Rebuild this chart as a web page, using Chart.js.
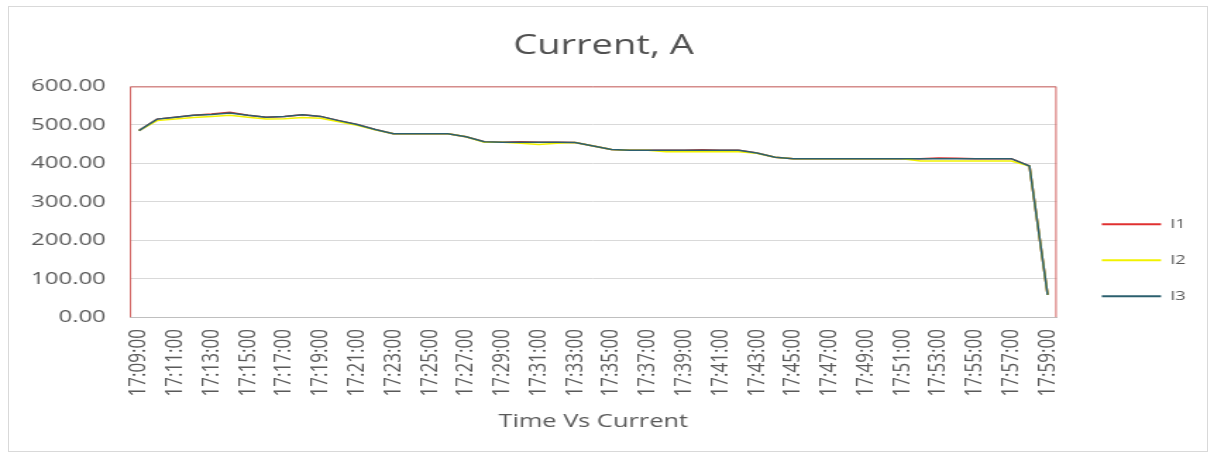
<!DOCTYPE html>
<html>
<head>
<meta charset="utf-8">
<script src="https://cdn.jsdelivr.net/npm/chart.js@4"></script>
<style>
    html, body { margin: 0; padding: 0; background: #fff; }
    body { width: 1215px; height: 454px; position: relative; overflow: hidden; }
    /* the source picture is stretched sideways, so the chart is drawn narrow and scaled */
    #stretch { position: absolute; left: 0; top: 0; width: 862px; height: 454px; transform: scaleX(1.41); transform-origin: 0 0; }
    #frame { position: absolute; left: 8px; top: 6px; width: 1198px; height: 444px; border: 1px solid #d9d9d9; pointer-events: none; }
</style>
</head>
<body>
<div id="stretch"><canvas id="line-chart" width="862" height="454"></canvas></div>
<div id="frame"></div>
<script>
// time labels, one per minute
const timeLabels = [
    '17:09:00', '17:10:00', '17:11:00', '17:12:00', '17:13:00', '17:14:00', '17:15:00', '17:16:00', '17:17:00', '17:18:00',
    '17:19:00', '17:20:00', '17:21:00', '17:22:00', '17:23:00', '17:24:00', '17:25:00', '17:26:00', '17:27:00', '17:28:00',
    '17:29:00', '17:30:00', '17:31:00', '17:32:00', '17:33:00', '17:34:00', '17:35:00', '17:36:00', '17:37:00', '17:38:00',
    '17:39:00', '17:40:00', '17:41:00', '17:42:00', '17:43:00', '17:44:00', '17:45:00', '17:46:00', '17:47:00', '17:48:00',
    '17:49:00', '17:50:00', '17:51:00', '17:52:00', '17:53:00', '17:54:00', '17:55:00', '17:56:00', '17:57:00', '17:58:00',
    '17:59:00'
];

const i1Values = [
    485, 515, 520, 525, 528, 533, 525, 520, 522, 526,
    522, 511, 501, 488, 477, 477, 477, 477, 469, 456,
    455, 456, 455, 455, 454, 445, 436, 434, 434, 434,
    434, 435, 434, 434, 427, 416, 412, 412, 412, 412,
    412, 412, 412, 412, 414, 413, 412, 412, 412, 393,
    58
];

const i2Values = [
    485, 511, 515, 519, 522, 525, 520, 515, 516, 519,
    517, 508, 499, 487, 477, 477, 477, 477, 469, 455,
    455, 452, 449, 452, 454, 445, 436, 434, 434, 430,
    430, 430, 430, 430, 426, 416, 412, 412, 412, 412,
    412, 412, 412, 406, 406, 406, 406, 406, 406, 393,
    58
];

const i3Values = [
    485, 515, 520, 525, 527, 531, 525, 520, 522, 526,
    522, 511, 501, 488, 477, 477, 477, 477, 469, 456,
    455, 455, 455, 455, 454, 445, 436, 434, 434, 434,
    434, 434, 434, 434, 427, 416, 412, 412, 412, 412,
    412, 412, 412, 412, 412, 412, 412, 412, 412, 393,
    58
];

const yTicks = [0, 100, 200, 300, 400, 500, 600];

const font = "'Open Sans', 'DejaVu Sans', sans-serif";

// red border round the plot area
const plotBorder = {
    id: 'plotBorder',
    afterDatasetsDraw(chart) {
        const { ctx, chartArea } = chart;
        ctx.save();
        ctx.strokeStyle = '#d0605e';
        ctx.lineWidth = 1;
        ctx.beginPath();
        ctx.moveTo(chartArea.left + 0.5, chartArea.bottom);
        ctx.lineTo(chartArea.left + 0.5, chartArea.top + 0.5);
        ctx.lineTo(chartArea.right - 0.5, chartArea.top + 0.5);
        ctx.lineTo(chartArea.right - 0.5, chartArea.bottom);
        ctx.stroke();
        ctx.restore();
    }
};

// order: I3 drawn last so it sits on top
function lineSet(label, values, color, order) {
    return {
        label: label,
        data: values,
        order: order,
        borderColor: color,
        backgroundColor: color,
        borderWidth: 1.5,
        pointRadius: 0,
        tension: 0,
        fill: false
    };
}

new Chart(document.getElementById('line-chart'), {
    type: 'line',
    data: {
        labels: timeLabels,
        datasets: [
            lineSet('I1', i1Values, '#e03030', 3),
            lineSet('I2', i2Values, '#f2f200', 2),
            lineSet('I3', i3Values, '#2b5f6e', 1)
        ]
    },
    plugins: [plotBorder],
    options: {
        responsive: false,
        animation: false,
        devicePixelRatio: 1,
        layout: {
            padding: { left: 5, right: 11, top: 0, bottom: 0 }
        },
        scales: {
            x: {
                offset: true,
                grid: { display: false, drawTicks: false },
                border: { display: true, color: '#bfbfbf' },
                ticks: {
                    autoSkip: false,
                    minRotation: 90,
                    maxRotation: 90,
                    padding: 12,
                    color: '#595959',
                    font: { family: font, size: 17 },
                    callback: function (value, index) {
                        return index % 2 === 0 ? this.getLabelForValue(value) : '';
                    }
                },
                title: {
                    display: true,
                    text: 'Time Vs Current',
                    color: '#595959',
                    font: { family: font, size: 18 },
                    padding: { top: 3, bottom: 21 }
                }
            },
            y: {
                min: 0,
                max: 600,
                afterBuildTicks: (scale) => {
                    scale.ticks = yTicks.map(v => ({ value: v }));
                },
                grid: { color: '#d9d9d9', drawTicks: false },
                border: { display: false },
                ticks: {
                    padding: 17,
                    color: '#595959',
                    font: { family: font, size: 17 },
                    callback: (value) => value.toFixed(2)
                }
            },
            // empty axis, only keeps a gap between plot and legend
            gap: {
                position: 'right',
                display: true,
                grid: { display: false },
                border: { display: false },
                ticks: { display: false },
                afterFit: (scale) => { scale.width = 9; }
            }
        },
        plugins: {
            title: {
                display: true,
                text: 'Current, A',
                color: '#505050',
                font: { family: font, size: 27, weight: 'normal' },
                padding: { top: 30, bottom: 24 }
            },
            legend: {
                position: 'right',
                title: {
                    display: true,
                    text: ' ',
                    font: { size: 12 },
                    padding: { top: 52, bottom: 0 }
                },
                labels: {
                    boxWidth: 42,
                    boxHeight: 2,
                    padding: 23,
                    color: '#595959',
                    font: { family: font, size: 13 },
                    sort: (a, b) => a.datasetIndex - b.datasetIndex,
                    generateLabels: (chart) => {
                        const items = Chart.defaults.plugins.legend.labels.generateLabels(chart);
                        items.forEach(item => { item.lineWidth = 0; });
                        return items;
                    }
                }
            },
            tooltip: { enabled: false }
        }
    }
});
</script>
</body>
</html>
